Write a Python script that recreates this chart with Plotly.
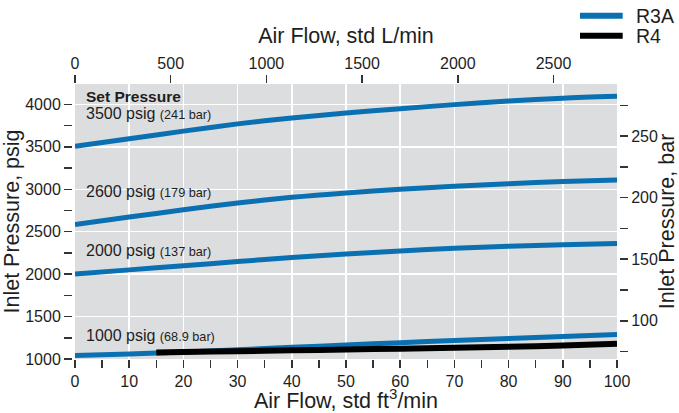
import plotly.graph_objects as go

# ---------------- data ----------------
flow_cfm = [0, 10, 20, 30, 40, 50, 60, 70, 80, 90, 100]
r3a_3500 = [3505, 3595, 3685, 3770, 3840, 3898, 3949, 3997, 4040, 4073, 4095]
r3a_2600 = [2585, 2672, 2758, 2838, 2905, 2957, 2999, 3035, 3065, 3090, 3108]
r3a_2000 = [2000, 2050, 2099, 2148, 2195, 2237, 2273, 2304, 2329, 2347, 2360]
r3a_1000 = [1040, 1058, 1082, 1108, 1137, 1165, 1192, 1218, 1242, 1265, 1288]

r4_cfm = [15, 20, 30, 40, 50, 60, 70, 80, 90, 100]
r4_1000 = [1078, 1083, 1092, 1102, 1112, 1122, 1132, 1144, 1160, 1180]

set_labels = ["3500 psig", "2600 psig", "2000 psig", "1000 psig"]
set_bar = ["(241 bar)", "(179 bar)", "(137 bar)", "(68.9 bar)"]
label_y = [3895, 2977, 2274, 1278]

x_ticks = list(range(0, 101, 10))
y_ticks = list(range(1000, 4001, 500))
lpm_ticks = list(range(0, 2501, 500))
bar_ticks = [100, 150, 200, 250]

CFM_RANGE = [0, 100]
PSI_RANGE = [1000, 4240]
LPM_PER_CFM = 28.3168
PSI_PER_BAR = 14.5038

BLUE = "#0a70b1"
BLACK = "#000000"
GRAY = "#dcdddf"
TXT = "#1e1e1e"
FONT = "Liberation Sans, Arial, Helvetica, sans-serif"

W, H = 679, 413
ML, MR, MT, MB = 72, 60, 84, 54
PW = W - ML - MR
PH = H - MT - MB

fig = go.Figure()

for i, ys in enumerate([r3a_3500, r3a_2600, r3a_2000, r3a_1000]):
    fig.add_trace(go.Scatter(
        x=flow_cfm, y=ys, mode="lines", name="R3A",
        line=dict(color=BLUE, width=5, shape="spline", smoothing=0.8),
        showlegend=False, hoverinfo="skip"))

fig.add_trace(go.Scatter(
    x=r4_cfm, y=r4_1000, mode="lines", name="R4",
    line=dict(color=BLACK, width=6, shape="spline", smoothing=0.8),
    showlegend=False, hoverinfo="skip"))

# helper trace for the secondary (top / right) axes
fig.add_trace(go.Scatter(x=[None], y=[None], xaxis="x2", yaxis="y2",
                         showlegend=False, hoverinfo="skip"))

tickfont = dict(family=FONT, size=16, color=TXT)
titlefont = dict(family=FONT, size=21.5, color=TXT)

fig.update_layout(
    width=W, height=H,
    margin=dict(l=ML, r=MR, t=MT, b=MB, pad=0, autoexpand=False),
    paper_bgcolor="white",
    plot_bgcolor=GRAY,
    font=dict(family=FONT, color=TXT),
    showlegend=False,
    xaxis=dict(
        domain=[3 / PW, 1 - 2 / PW], automargin=True,
        range=CFM_RANGE, tickvals=x_ticks, ticks="outside", ticklen=8,
        tickwidth=1.5, tickcolor="#333",
        minor=dict(dtick=5, tick0=0, ticks="outside", ticklen=8,
                   tickwidth=1.5, tickcolor="#333", showgrid=False),
        showgrid=True, gridcolor="white", gridwidth=1.5,
        zeroline=False, showline=False, tickfont=tickfont,
        title=dict(text="Air Flow, std ft<sup>3</sup>/min", font=titlefont, standoff=5),
    ),
    xaxis2=dict(
        overlaying="x", side="top", anchor="y", automargin=True,
        range=[CFM_RANGE[0] * LPM_PER_CFM, CFM_RANGE[1] * LPM_PER_CFM],
        tickvals=lpm_ticks, ticks="outside", ticklen=8, tickwidth=1.5,
        tickcolor="#333", showgrid=False, zeroline=False, showline=False,
        tickfont=tickfont,
        title=dict(text="Air Flow, std L/min", font=titlefont, standoff=5),
    ),
    yaxis=dict(
        anchor="free", position=0, automargin=True,
        range=PSI_RANGE, tickvals=y_ticks, ticks="outside", ticklen=8,
        tickwidth=1.5, tickcolor="#333",
        minor=dict(dtick=250, tick0=1000, ticks="outside", ticklen=8,
                   tickwidth=1.5, tickcolor="#333", showgrid=False),
        showgrid=True, gridcolor="white", gridwidth=1.5,
        zeroline=False, showline=False, tickfont=tickfont,
        title=dict(text="Inlet Pressure, psig", font=titlefont, standoff=3),
    ),
    yaxis2=dict(
        overlaying="y", side="right", anchor="free", position=1, automargin=True,
        range=[PSI_RANGE[0] / PSI_PER_BAR, PSI_RANGE[1] / PSI_PER_BAR],
        tickvals=bar_ticks, ticks="outside", ticklen=8, tickwidth=1.5,
        tickcolor="#333",
        minor=dict(dtick=25, tick0=0, ticks="outside", ticklen=8,
                   tickwidth=1.5, tickcolor="#333", showgrid=False),
        showgrid=False, zeroline=False, showline=False, tickfont=tickfont,
        title=dict(text="Inlet Pressure, bar", font=titlefont, standoff=6),
    ),
)

# set-pressure labels
ann = [dict(x=1.6, y=4097, xref="x", yref="y", xanchor="left", yanchor="middle",
            text="<b>Set Pressure</b>", showarrow=False,
            font=dict(family=FONT, size=15.5, color=TXT))]
for name, bar, yy in zip(set_labels, set_bar, label_y):
    ann.append(dict(x=1.6, y=yy, xref="x", yref="y", xanchor="left", yanchor="middle",
                    text=f"{name} <span style='font-size:12.7px'>{bar}</span>",
                    showarrow=False, font=dict(family=FONT, size=16, color=TXT)))

# legend (drawn manually to match the reference spacing); args are window pixels
def py(pix):
    return (H - MB - pix) / PH

def px(pix):
    return (pix - ML) / PW

legend_items = [("R3A", BLUE, 6, 15.7), ("R4", BLACK, 6, 35.7)]
shapes = []
for name, col, wd, yy in legend_items:
    shapes.append(dict(type="line", xref="paper", yref="paper",
                       x0=px(580), x1=px(622.7), y0=py(yy), y1=py(yy),
                       line=dict(color=col, width=wd)))
    ann.append(dict(x=px(634), y=py(yy), xref="paper", yref="paper",
                    xanchor="left", yanchor="middle", text=name, showarrow=False,
                    font=dict(family=FONT, size=19.5, color=TXT)))

fig.update_layout(annotations=ann, shapes=shapes)

# remove the browser's default body margin so the figure fills the window
fig.write_html(
    "out.html",
    config={"displayModeBar": False, "staticPlot": True},
    post_script="document.body.style.margin='0';document.body.style.overflow='hidden';",
)
